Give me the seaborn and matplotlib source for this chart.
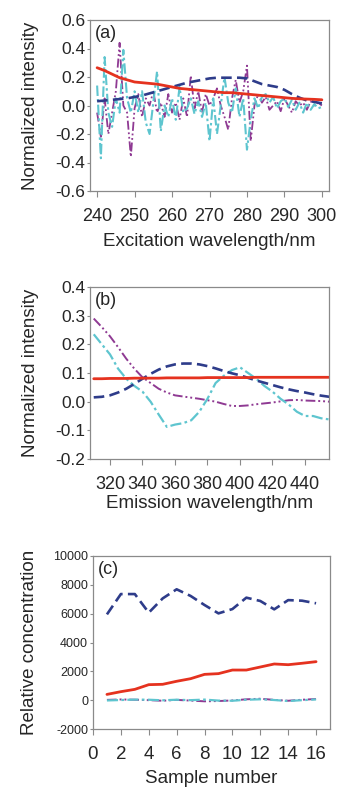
import numpy as np
import pandas as pd
import matplotlib
matplotlib.use("Agg")
import matplotlib.pyplot as plt
import seaborn as sns

sns.set_style("white")
plt.rcParams['font.family'] = ['Liberation Sans', 'DejaVu Sans']
plt.rcParams['axes.unicode_minus'] = False

# ---------------- data ----------------
# Panel (a): excitation spectra
wl_a = list(range(240, 301))
wl_a2 = list(range(240, 301, 2))
a_red = [0.265, 0.245, 0.22, 0.195, 0.18, 0.165, 0.16, 0.155, 0.15, 0.14, 0.13,
         0.12, 0.115, 0.11, 0.105, 0.10, 0.095, 0.09, 0.09, 0.085, 0.08, 0.075,
         0.07, 0.065, 0.06, 0.055, 0.05, 0.047, 0.045, 0.043, 0.04]
a_blue = [0.03, 0.035, 0.04, 0.045, 0.05, 0.06, 0.07, 0.085, 0.10, 0.115, 0.13,
          0.145, 0.16, 0.17, 0.18, 0.19, 0.195, 0.195, 0.195, 0.195, 0.19, 0.17,
          0.15, 0.14, 0.13, 0.11, 0.08, 0.055, 0.035, 0.025, 0.015]
a_purple = [-0.05, -0.22, 0.05, -0.20, -0.05, 0.10, 0.44, 0.00, -0.05, -0.36,
            -0.02, 0.08, -0.08, 0.05, 0.00, 0.10, -0.05, 0.02, -0.08, 0.08,
            -0.05, 0.02, -0.10, 0.05, -0.08, 0.21, -0.02, 0.10, -0.05, 0.08,
            0.00, 0.05, 0.12, 0.00, -0.08, -0.17, 0.05, 0.18, 0.02, 0.10,
            0.28, -0.25, 0.00, 0.08, 0.02, 0.06, -0.03, 0.00, 0.03, -0.04,
            0.05, 0.00, -0.05, 0.03, 0.00, 0.02, -0.03, 0.03, 0.00, 0.02, 0.00]
a_cyan = [0.14, -0.37, 0.34, -0.05, -0.15, 0.05, -0.05, 0.39, 0.05, -0.05,
          0.10, -0.05, 0.10, -0.12, -0.20, 0.02, 0.24, -0.18, 0.00, -0.08,
          0.05, -0.10, 0.13, -0.05, -0.02, 0.05, -0.06, 0.03, -0.08, 0.02,
          -0.25, 0.05, -0.20, 0.00, 0.20, 0.02, -0.05, 0.12, -0.08, 0.05,
          -0.31, -0.10, 0.05, -0.02, 0.06, 0.08, 0.02, 0.06, -0.02, 0.03,
          0.05, -0.01, 0.04, -0.03, 0.02, -0.05, 0.02, -0.03, 0.01, -0.02, -0.01]

# Panel (b): emission spectra
wl_b = list(range(310, 456, 5))
b_red = [0.080, 0.080, 0.081, 0.081, 0.081, 0.082, 0.082, 0.082, 0.082, 0.083,
         0.083, 0.083, 0.083, 0.083, 0.084, 0.084, 0.084, 0.084, 0.084, 0.084,
         0.085, 0.085, 0.085, 0.085, 0.085, 0.085, 0.085, 0.085, 0.085, 0.085]
b_blue = [0.015, 0.017, 0.022, 0.032, 0.045, 0.062, 0.080, 0.097, 0.112, 0.123,
          0.130, 0.133, 0.133, 0.130, 0.124, 0.116, 0.107, 0.099, 0.092, 0.083,
          0.074, 0.066, 0.058, 0.050, 0.043, 0.037, 0.032, 0.026, 0.021, 0.017]
b_purple = [0.29, 0.26, 0.228, 0.19, 0.15, 0.115, 0.085, 0.065, 0.045, 0.032,
            0.022, 0.018, 0.014, 0.010, 0.005, 0.000, -0.008, -0.015, -0.015, -0.013,
            -0.009, -0.006, -0.003, 0.001, 0.005, 0.006, 0.004, 0.003, 0.002, 0.000]
b_cyan = [0.235, 0.20, 0.165, 0.115, 0.08, 0.055, 0.035, 0.000, -0.045, -0.088,
          -0.080, -0.075, -0.065, -0.035, 0.010, 0.065, 0.090, 0.110, 0.120, 0.100,
          0.080, 0.055, 0.035, 0.010, -0.010, -0.035, -0.050, -0.050, -0.058, -0.062]

# Panel (c): relative concentrations
samples = list(range(1, 17))
c_blue = [5950, 7360, 7360, 6070, 7060, 7690, 7230, 6600, 6020, 6320, 7110, 6880,
          6300, 6940, 6900, 6720]
c_red = [400, 590, 750, 1075, 1100, 1310, 1490, 1790, 1840, 2090, 2090, 2300,
         2510, 2460, 2560, 2670]
c_purple = [20, 50, 30, 0, -40, 20, -30, -80, -60, -20, 60, 100, 20, -40, 30, 80]
c_cyan = [-20, 10, 40, 30, -10, 30, 0, 40, -30, -40, 30, 60, 10, -60, 0, 50]

# ---------------- styles ----------------
RED = "#E5321F"
BLUE = "#2E3C8A"
PURPLE = "#8F3A93"
CYAN = "#5EC5CF"
ls_blue = (0, (4, 2))
ls_purple = (0, (5, 1.5, 1, 1.5, 1, 1.5))
ls_cyan = (0, (5, 1.5, 1.2, 1.5))
SPINE = "#8a8a8a"

fig = plt.figure(figsize=(3.43, 7.91), dpi=100)
W, H = 343, 791

def make_ax(l, r, t, b):
    return fig.add_axes([l / W, 1 - b / H, (r - l) / W, (b - t) / H])

ax_a = make_ax(90, 329, 20, 191)
ax_b = make_ax(90, 329, 287, 459)
ax_c = make_ax(93, 330, 556, 729)

# (a)
sns.lineplot(x=wl_a, y=a_purple, ax=ax_a, color=PURPLE, linestyle=ls_purple, linewidth=1.3)
sns.lineplot(x=wl_a, y=a_cyan, ax=ax_a, color=CYAN, linestyle=ls_cyan, linewidth=1.5)
sns.lineplot(x=wl_a2, y=a_blue, ax=ax_a, color=BLUE, linestyle=ls_blue, linewidth=1.9)
sns.lineplot(x=wl_a2, y=a_red, ax=ax_a, color=RED, linestyle="-", linewidth=2.0)
ax_a.set_xlim(238.1, 301.9)
ax_a.set_ylim(-0.6, 0.6)
ax_a.set_xticks(range(240, 301, 10))
ax_a.set_yticks([-0.6, -0.4, -0.2, 0.0, 0.2, 0.4, 0.6])
ax_a.set_yticklabels(["-0.6", "-0.4", "-0.2", "0.0", "0.2", "0.4", "0.6"])
ax_a.set_xlabel("Excitation wavelength/nm", fontsize=13.5)
ax_a.set_ylabel("Normalized intensity", fontsize=13.5)
ax_a.xaxis.set_label_coords(0.5, -0.245)
ax_a.yaxis.set_label_coords(-0.215, 0.5)
ax_a.text(0.02, 0.97, "(a)", transform=ax_a.transAxes, fontsize=13, va="top", ha="left")

# (b)
sns.lineplot(x=wl_b, y=b_purple, ax=ax_b, color=PURPLE, linestyle=ls_purple, linewidth=1.4)
sns.lineplot(x=wl_b, y=b_cyan, ax=ax_b, color=CYAN, linestyle=ls_cyan, linewidth=1.6)
sns.lineplot(x=wl_b, y=b_blue, ax=ax_b, color=BLUE, linestyle=ls_blue, linewidth=1.9)
sns.lineplot(x=wl_b, y=b_red, ax=ax_b, color=RED, linestyle="-", linewidth=2.0)
ax_b.set_xlim(307.7, 454.8)
ax_b.set_ylim(-0.2, 0.4)
ax_b.set_xticks(range(320, 441, 20))
ax_b.set_yticks([-0.2, -0.1, 0.0, 0.1, 0.2, 0.3, 0.4])
ax_b.set_yticklabels(["-0.2", "-0.1", "0.0", "0.1", "0.2", "0.3", "0.4"])
ax_b.set_xlabel("Emission wavelength/nm", fontsize=13.5)
ax_b.set_ylabel("Normalized intensity", fontsize=13.5)
ax_b.xaxis.set_label_coords(0.5, -0.21)
ax_b.yaxis.set_label_coords(-0.215, 0.5)
ax_b.text(0.02, 0.97, "(b)", transform=ax_b.transAxes, fontsize=13, va="top", ha="left")

# (c)
sns.lineplot(x=samples, y=c_purple, ax=ax_c, color=PURPLE, linestyle=ls_purple, linewidth=1.4)
sns.lineplot(x=samples, y=c_cyan, ax=ax_c, color=CYAN, linestyle=ls_cyan, linewidth=1.6)
sns.lineplot(x=samples, y=c_blue, ax=ax_c, color=BLUE, linestyle=ls_blue, linewidth=1.9)
sns.lineplot(x=samples, y=c_red, ax=ax_c, color=RED, linestyle="-", linewidth=2.0)
ax_c.set_xlim(0, 17)
ax_c.set_ylim(-2000, 10000)
ax_c.set_xticks(range(0, 17, 2))
ax_c.set_yticks(range(-2000, 10001, 2000))
ax_c.set_xlabel("Sample number", fontsize=13.5)
ax_c.set_ylabel("Relative concentration", fontsize=13.5)
ax_c.xaxis.set_label_coords(0.5, -0.235)
ax_c.yaxis.set_label_coords(-0.23, 0.5)
ax_c.text(0.02, 0.97, "(c)", transform=ax_c.transAxes, fontsize=13, va="top", ha="left")

for ax, xfs, yfs in [(ax_a, 13, 12.5), (ax_b, 13, 12.5), (ax_c, 13.5, 9)]:
    for s in ax.spines.values():
        s.set_visible(True)
        s.set_color(SPINE)
        s.set_linewidth(0.9)
    ax.tick_params(axis="x", direction="out", length=4, width=0.8, color=SPINE,
                   pad=8, labelsize=xfs, bottom=True)
    ax.tick_params(axis="y", direction="out", length=2, width=0.8, color=SPINE,
                   pad=1.5, labelsize=yfs, left=True)
    ax.grid(False)

fig.savefig("out.png", dpi=100)
